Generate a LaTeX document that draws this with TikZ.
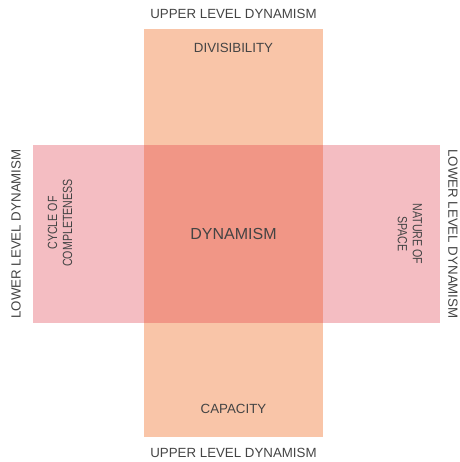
\documentclass[tikz,border=0pt]{standalone}
\usepackage{fontspec}
\setmainfont{Liberation Sans}
\usepackage{xcolor}
\definecolor{peach}{HTML}{F9C5A8}
\definecolor{rosy}{HTML}{F4BDC2}
\definecolor{core}{HTML}{F19686}
\definecolor{ink}{HTML}{444444}
\begin{document}
\begin{tikzpicture}[x=1pt,y=-1pt,
  lbl/.style={text=ink, font=\fontsize{13.3}{15}\selectfont, align=center, inner sep=0pt},
  side/.style={lbl, font=\fontsize{13.3}{15}\selectfont}]
\useasboundingbox (0,0) rectangle (459,462);
\fill[peach] (144,29) rectangle (323,437);
\fill[rosy] (33,145) rectangle (440,323);
\fill[core] (144,145) rectangle (323,323);

\node[lbl] (topdyn) at (233.5,14) {UPPER LEVEL DYNAMISM};
\node[lbl] (botdyn) at (233.5,453) {UPPER LEVEL DYNAMISM};
\node[lbl] (divis) at (233.5,48) {DIVISIBILITY};
\node[lbl] (capac) at (233.5,409) {CAPACITY};
\node[lbl, font=\fontsize{16}{18}\selectfont] (dyn) at (233.5,234) {DYNAMISM};
\node[lbl, rotate=90] (leftdyn) at (16,234) {LOWER LEVEL DYNAMISM};
\node[lbl, rotate=-90] (rightdyn) at (453,234) {LOWER LEVEL DYNAMISM};
\node[side, rotate=90, xscale=0.8] (cycle) at (60,223) {CYCLE OF\\COMPLETENESS};
\node[side, rotate=-90, xscale=0.8] (nature) at (410,234) {NATURE OF\\SPACE};
\end{tikzpicture}
\end{document}
